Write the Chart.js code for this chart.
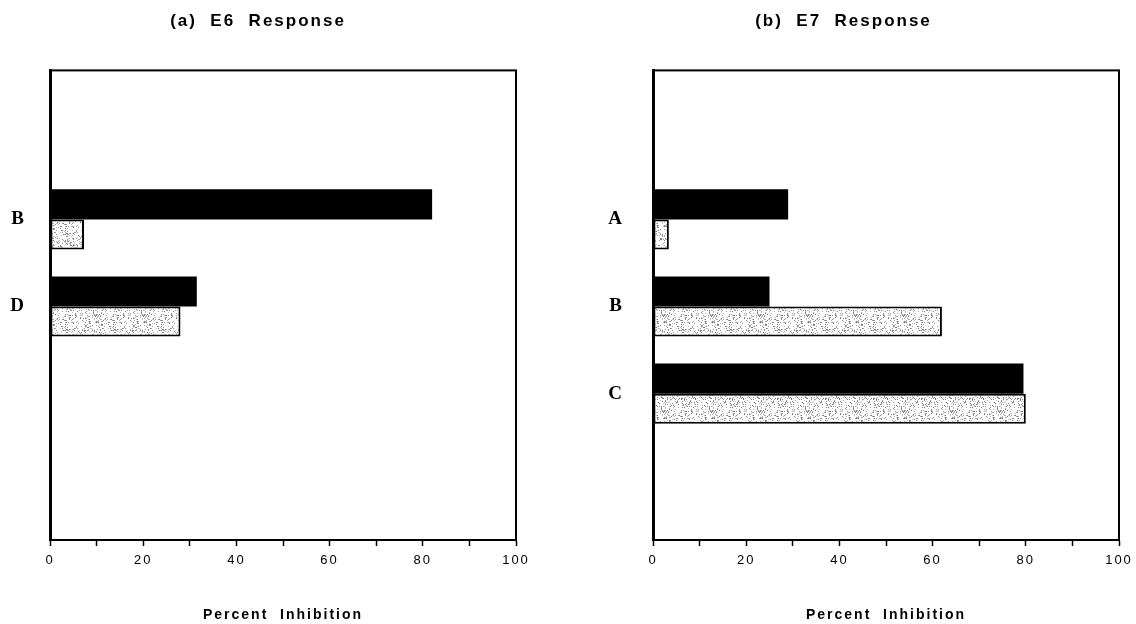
<!DOCTYPE html>
<html>
<head>
<meta charset="utf-8">
<script src="https://cdn.jsdelivr.net/npm/chart.js@4.4.0/dist/chart.umd.min.js"></script>
<style>
  html, body { margin: 0; padding: 0; background: #fff; overflow: hidden; }
  #wrap { position: relative; width: 1136px; height: 624px; overflow: hidden; }
  .panel { position: absolute; top: 0; height: 624px; }
</style>
</head>
<body>
<div id="wrap">
  <div class="panel" style="left:0;width:568px"><canvas id="e6"></canvas></div>
  <div class="panel" style="left:568px;width:574px"><canvas id="e7"></canvas></div>
</div>
<script>
// values (percent inhibition)
var xTicks = [0, 20, 40, 60, 80, 100];
var e6Labels = ['B', 'D'];
var e6Dark = [82, 31.5];
var e6Light = [7.3, 28];
var e7Labels = ['A', 'B', 'C'];
var e7Dark = [29, 25, 79.5];
var e7Light = [3.4, 62, 80];

// light stippled fill like the printed figure
function stipple() {
  var n = 48;
  var c = document.createElement('canvas');
  c.width = n; c.height = n;
  var g = c.getContext('2d');
  var img = g.createImageData(n, n);
  var s = 12345;
  for (var i = 0; i < n * n; i++) {
    s = (s * 16807) % 2147483647;
    var v = (s / 2147483647) < 0.22 ? 110 + (s % 90) : 255;
    img.data[i * 4] = v;
    img.data[i * 4 + 1] = v;
    img.data[i * 4 + 2] = v;
    img.data[i * 4 + 3] = 255;
  }
  g.putImageData(img, 0, 0);
  return g.createPattern(c, 'repeat');
}
var dots = stipple();

// the printed labels are set with wide letter spacing
var spacing = {
  id: 'spacing',
  beforeUpdate: function(chart) { chart.ctx.letterSpacing = '2px'; },
  beforeDraw: function(chart) { chart.ctx.letterSpacing = '2px'; }
};

var frame = {
  id: 'frame',
  afterDatasetsDraw: function(chart) {
    var a = chart.chartArea, ctx = chart.ctx;
    ctx.save();
    ctx.strokeStyle = '#000';
    ctx.lineWidth = 2;
    ctx.strokeRect(a.left, a.top, a.right - a.left, a.bottom - a.top);
    ctx.restore();
  }
};

function makePanel(id, title, labels, dark, light, padRight, yWidth, labelPad) {
  return new Chart(document.getElementById(id), {
    type: 'bar',
    data: {
      datasets: [
        {
          data: dark.map(function(v, i) { return { x: v, y: i }; }),
          backgroundColor: '#000',
          borderWidth: 0
        },
        {
          data: light.map(function(v, i) { return { x: v, y: i }; }),
          backgroundColor: dots,
          borderColor: '#000',
          borderWidth: 2,
          borderSkipped: false
        }
      ]
    },
    options: {
      indexAxis: 'y',
      responsive: true,
      maintainAspectRatio: false,
      animation: false,
      categoryPercentage: 0.69,
      barPercentage: 1.0,
      layout: { padding: { left: 0, right: padRight, top: 0, bottom: 0 } },
      plugins: {
        legend: { display: false },
        tooltip: { enabled: false },
        title: {
          display: true,
          text: title,
          color: '#000',
          font: { family: 'Liberation Sans', size: 17, weight: 'bold' },
          padding: { top: 11, bottom: 39 }
        }
      },
      scales: {
        x: {
          type: 'linear',
          min: 0,
          max: 100,
          afterFit: function(s) { s.height = 84; },
          ticks: {
            stepSize: 10,
            padding: 7,
            color: '#000',
            font: { family: 'Liberation Sans', size: 13 },
            callback: function(v) { return xTicks.indexOf(v) >= 0 ? String(v) : ''; }
          },
          grid: {
            drawOnChartArea: false,
            drawTicks: true,
            tickLength: 6,
            tickColor: '#000',
            tickWidth: 1.5
          },
          border: { display: true, color: '#000', width: 2 },
          title: {
            display: true,
            text: 'Percent  Inhibition',
            color: '#000',
            font: { family: 'Liberation Sans', size: 14, weight: 'bold' },
            padding: { top: 0, bottom: 0 }
          }
        },
        y: {
          type: 'linear',
          reverse: true,
          offset: false,
          min: -1.71,
          max: 3.68,
          afterFit: function(s) { s.width = yWidth; },
          afterBuildTicks: function(s) {
            s.ticks = labels.map(function(_, i) { return { value: i }; });
          },
          ticks: {
            padding: labelPad,
            color: '#000',
            font: { family: 'Liberation Serif', size: 19, weight: 'bold' },
            callback: function(v) { return labels[v]; }
          },
          grid: { display: false, drawTicks: false },
          border: { display: true, color: '#000', width: 3 }
        }
      }
    },
    plugins: [spacing, frame]
  });
}

makePanel('e6', '(a)  E6  Response', e6Labels, e6Dark, e6Light, 52, 50, 24);
makePanel('e7', '(b)  E7  Response', e7Labels, e7Dark, e7Light, 23, 85, 29);
</script>
</body>
</html>
